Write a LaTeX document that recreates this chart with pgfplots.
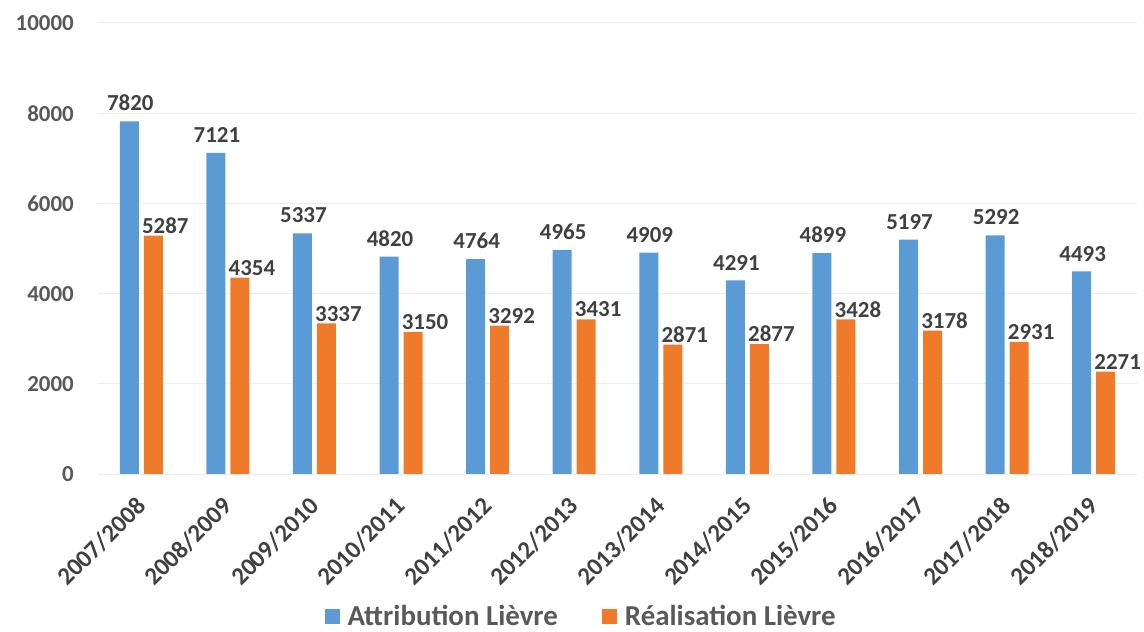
\documentclass[border=0pt]{standalone}
\usepackage{pgfplots}
\pgfplotsset{compat=1.18}
\usepackage{fontspec}
\setmainfont{Carlito}
\definecolor{attrib}{HTML}{5B9BD5}
\definecolor{realis}{HTML}{EE7A2A}
\definecolor{txtdark}{HTML}{404040}
\definecolor{txtgray}{HTML}{595959}
\definecolor{gridc}{HTML}{EDEDED}
\begin{document}
\begin{tikzpicture}
\useasboundingbox (0,0) rectangle (1144bp,632bp);
\begin{axis}[
  at={(98bp,158bp)}, anchor=south west,
  scale only axis, width=1039bp, height=451bp,
  ybar, bar width=19bp,
  xmin=-0.5, xmax=11.5,
  ymin=0, ymax=10000, ytick={0,2000,...,10000},
  scaled y ticks=false,
  xtick={0,...,11},
  xticklabels={2007/2008,2008/2009,2009/2010,2010/2011,2011/2012,2012/2013,2013/2014,2014/2015,2015/2016,2016/2017,2017/2018,2018/2019},
  axis line style={draw=none},
  major tick length=0pt,
  ymajorgrids, grid style={gridc, line width=1bp},
  /pgf/number format/1000 sep={},
  /pgf/number format/assume math mode=true,
  yticklabel style={font=\fontsize{23}{25}\selectfont\bfseries, txtgray, anchor=east, inner sep=0pt, xshift=-24bp},
  xticklabel style={font=\fontsize{25}{27}\selectfont\bfseries, txtdark, inner sep=0pt, yshift=-28bp, rotate=45, anchor=east},
  nodes near coords,
  every node near coord/.append style={font=\fontsize{23}{25}\selectfont\bfseries, text=txtdark, inner sep=0pt, anchor=south},
  legend columns=2,
  legend style={at={(0.464,-0.315)}, anchor=center, draw=none, fill=none,
    inner sep=0pt, nodes={inner sep=0pt},
    font=\fontsize{29}{31}\selectfont\bfseries, text=txtgray,
    /tikz/every odd column/.append style={column sep=8bp},
    /tikz/every even column/.append style={column sep=44bp}},
  legend image code/.code={\fill[#1,draw=none] (0bp,-7.5bp) rectangle (15bp,7.5bp);},
]
\addplot+[fill=attrib, draw=none, bar shift=-12bp,
  every node near coord/.append style={yshift=10bp, xshift=1bp}]
  coordinates {(0,7820) (1,7121) (2,5337) (3,4820) (4,4764) (5,4965) (6,4909) (7,4291) (8,4899) (9,5197) (10,5292) (11,4493)};
\addplot+[fill=realis, draw=none, bar shift=12bp,
  every node near coord/.append style={yshift=2bp, xshift=12bp}]
  coordinates {(0,5287) (1,4354) (2,3337) (3,3150) (4,3292) (5,3431) (6,2871) (7,2877) (8,3428) (9,3178) (10,2931) (11,2271)};
\legend{Attribution Lièvre, Réalisation Lièvre}
\end{axis}
\end{tikzpicture}
\end{document}
